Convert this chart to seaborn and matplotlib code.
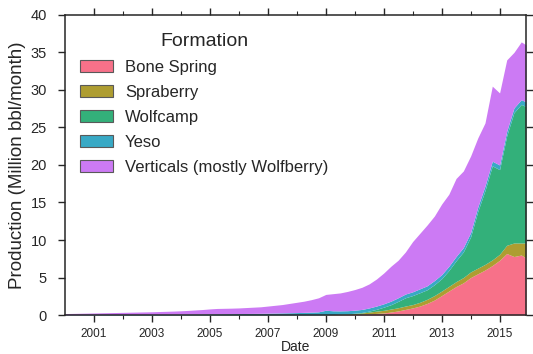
import numpy as np
import pandas as pd
import matplotlib
matplotlib.use("Agg")
import matplotlib.pyplot as plt
import matplotlib.dates as mdates
from matplotlib.patches import Patch
import seaborn as sns

# quarterly readings, Jan 2000 .. Dec 2015 (Million bbl/month, per formation)
month_index = list(range(0, 192, 3)) + [191]
dates = pd.date_range("2000-01-01", periods=192, freq="MS")[month_index]

formations = ["Bone Spring", "Spraberry", "Wolfcamp", "Yeso", "Verticals (mostly Wolfberry)"]

bone_spring = [0.00, 0.00, 0.00, 0.00, 0.00, 0.00, 0.00, 0.00,
               0.00, 0.00, 0.00, 0.00, 0.00, 0.00, 0.00, 0.01,
               0.01, 0.01, 0.01, 0.01, 0.01, 0.01, 0.01, 0.01,
               0.01, 0.01, 0.01, 0.01, 0.01, 0.01, 0.01, 0.01,
               0.01, 0.01, 0.01, 0.01, 0.02, 0.03, 0.04, 0.06,
               0.08, 0.12, 0.17, 0.22, 0.28, 0.40, 0.55, 0.75,
               0.95, 1.20, 1.55, 2.00, 2.60, 3.20, 3.80, 4.30,
               5.00, 5.50, 6.00, 6.60, 7.30, 8.20, 7.80, 8.00, 7.60]

spraberry = [0.00, 0.00, 0.00, 0.00, 0.00, 0.00, 0.00, 0.00,
             0.00, 0.00, 0.00, 0.00, 0.00, 0.00, 0.00, 0.00,
             0.00, 0.00, 0.00, 0.00, 0.00, 0.00, 0.00, 0.00,
             0.00, 0.00, 0.00, 0.00, 0.00, 0.00, 0.00, 0.00,
             0.00, 0.00, 0.00, 0.00, 0.02, 0.04, 0.06, 0.08,
             0.12, 0.16, 0.22, 0.30, 0.35, 0.40, 0.42, 0.45,
             0.45, 0.50, 0.55, 0.60, 0.60, 0.62, 0.65, 0.70,
             0.75, 0.75, 0.75, 0.75, 0.80, 1.10, 1.80, 1.60, 2.00]

wolfcamp = [0.00, 0.00, 0.00, 0.00, 0.00, 0.00, 0.00, 0.00,
            0.00, 0.00, 0.00, 0.00, 0.00, 0.00, 0.00, 0.00,
            0.00, 0.00, 0.00, 0.00, 0.00, 0.00, 0.00, 0.00,
            0.00, 0.00, 0.00, 0.00, 0.00, 0.00, 0.00, 0.00,
            0.00, 0.00, 0.00, 0.00, 0.00, 0.00, 0.01, 0.02,
            0.05, 0.07, 0.14, 0.24, 0.42, 0.58, 0.85, 1.10,
            1.20, 1.28, 1.27, 1.45, 1.65, 2.12, 2.78, 3.42,
            4.67, 7.55, 9.83, 12.53, 11.28, 14.58, 17.37, 18.47, 18.18]

yeso = [0.05, 0.05, 0.05, 0.06, 0.06, 0.06, 0.07, 0.07,
        0.07, 0.08, 0.08, 0.08, 0.09, 0.09, 0.10, 0.10,
        0.11, 0.12, 0.13, 0.14, 0.15, 0.16, 0.17, 0.18,
        0.19, 0.20, 0.21, 0.22, 0.24, 0.26, 0.28, 0.30,
        0.32, 0.35, 0.38, 0.42, 0.60, 0.50, 0.45, 0.42,
        0.40, 0.40, 0.42, 0.44, 0.45, 0.47, 0.48, 0.50,
        0.50, 0.52, 0.53, 0.55, 0.55, 0.56, 0.57, 0.58,
        0.58, 0.60, 0.62, 0.62, 0.62, 0.62, 0.63, 0.63, 0.62]

verticals = [0.15, 0.17, 0.19, 0.20, 0.22, 0.24, 0.25, 0.27,
             0.29, 0.30, 0.32, 0.34, 0.35, 0.38, 0.40, 0.42,
             0.45, 0.49, 0.54, 0.59, 0.66, 0.71, 0.72, 0.73,
             0.75, 0.79, 0.83, 0.87, 0.95, 1.03, 1.11, 1.24,
             1.37, 1.49, 1.66, 1.87, 2.11, 2.28, 2.39, 2.57,
             2.75, 2.95, 3.20, 3.60, 4.10, 4.65, 5.00, 5.60,
             6.70, 7.40, 8.10, 8.60, 9.40, 9.60, 10.40, 10.20,
             10.20, 9.20, 8.40, 10.00, 9.60, 9.50, 7.40, 7.70, 7.60]

df = pd.DataFrame({"Date": dates,
                   "Bone Spring": bone_spring,
                   "Spraberry": spraberry,
                   "Wolfcamp": wolfcamp,
                   "Yeso": yeso,
                   "Verticals (mostly Wolfberry)": verticals})

sns.set_style("ticks", {"axes.edgecolor": ".15", "xtick.color": ".15", "ytick.color": ".15",
                        "xtick.direction": "out", "ytick.direction": "out"})
plt.rcParams["font.family"] = ["Liberation Sans", "DejaVu Sans"]
plt.rcParams["text.color"] = ".15"
plt.rcParams["axes.labelcolor"] = ".15"

palette = sns.color_palette("husl", 5)

fig = plt.figure(figsize=(5.33, 3.54), dpi=100)
ax = fig.add_axes([0.122, 0.110, 0.865, 0.848])

ax.stackplot(df["Date"], df[formations].T.values, colors=palette, linewidth=0)

ax.set_xlim(df["Date"].iloc[0], df["Date"].iloc[-1])
ax.set_ylim(0, 40)
ax.set_yticks(np.arange(0, 41, 5))

odd_years = pd.to_datetime([f"{y}-01-01" for y in range(2001, 2016, 2)])
even_years = pd.to_datetime([f"{y}-01-01" for y in range(2002, 2016, 2)])
ax.set_xticks(odd_years)
ax.set_xticks(even_years, minor=True)
ax.xaxis.set_major_formatter(mdates.DateFormatter("%Y"))

ax.tick_params(which="both", top=True, right=True, direction="out")
ax.tick_params(which="major", length=5, width=1)
ax.tick_params(which="minor", length=3, width=0.8)
ax.tick_params(axis="x", labelsize=8.5, pad=4)
ax.tick_params(axis="y", labelsize=10.5, pad=8)
for sp in ax.spines.values():
    sp.set_linewidth(1.1)

ax.set_xlabel("Date", fontsize=10, labelpad=0)
ax.set_ylabel("Production (Million bbl/month)", fontsize=13.5, labelpad=3)

handles = [Patch(facecolor=c, edgecolor="0.35", linewidth=0.8) for c in palette]
ax.legend(handles, formations, title="Formation", loc="upper left",
          bbox_to_anchor=(0.0, 0.99), frameon=False, fontsize=12, title_fontsize=14,
          handlelength=2.0, handleheight=0.7, handletextpad=0.7, labelspacing=0.6)

fig.savefig("out.png", dpi=100)
